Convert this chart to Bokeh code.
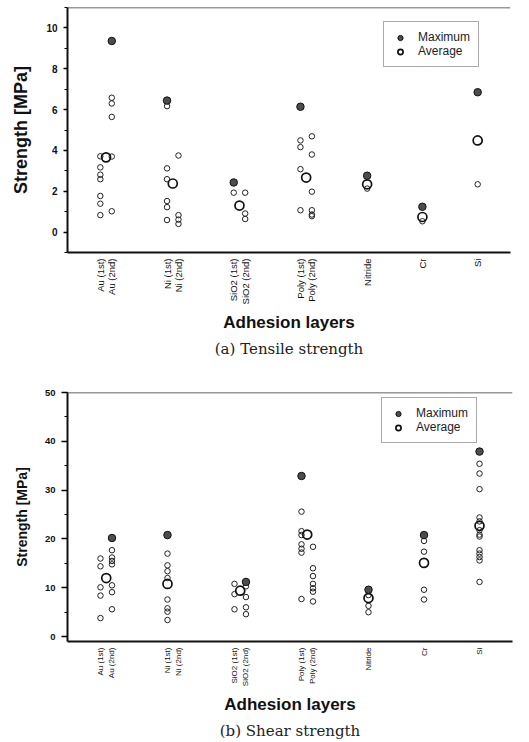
import math
from bokeh.plotting import figure
from bokeh.models import (FactorRange, Range1d, Legend, LegendItem, Span, Title,
                          SingleIntervalTicker)
from bokeh.layouts import column
from bokeh.embed import file_html
from bokeh.resources import INLINE

# ---------------- data ----------------
groups = ["Au", "Ni", "SiO2", "Poly", "Nitride", "Cr", "Si"]
group_columns = [["Au (1st)", "Au (2nd)"], ["Ni (1st)", "Ni (2nd)"],
                 ["SiO2 (1st)", "SiO2 (2nd)"], ["Poly (1st)", "Poly (2nd)"],
                 ["Nitride"], ["Cr"], ["Si"]]

# (a) Tensile strength, individual specimens per column (MPa)
tensile_points = [
    [3.71, 3.17, 2.81, 2.59, 1.77, 1.39, 0.83],        # Au (1st)
    [6.58, 6.30, 5.64, 3.70, 1.02],                    # Au (2nd)
    [6.17, 3.12, 2.59, 1.52, 1.22, 0.59],              # Ni (1st)
    [3.75, 0.83, 0.61, 0.40],                          # Ni (2nd)
    [1.93],                                            # SiO2 (1st)
    [1.93, 0.91, 0.64],                                # SiO2 (2nd)
    [4.49, 4.16, 3.08, 1.07],                          # Poly (1st)
    [4.69, 3.80, 1.98, 1.07, 0.86, 0.78],              # Poly (2nd)
    [2.13],                                            # Nitride
    [0.53],                                            # Cr
    [2.34],                                            # Si
]
tensile_max_col = ["Au (2nd)", "Ni (1st)", "SiO2 (1st)", "Poly (1st)", "Nitride", "Cr", "Si"]
tensile_max = [9.36, 6.44, 2.43, 6.14, 2.76, 1.24, 6.85]
tensile_avg_col = [None, None, None, None, None, None, None]
tensile_avg = [3.66, 2.38, 1.30, 2.67, 2.34, 0.74, 4.49]

# (b) Shear strength
shear_points = [
    [16.0, 14.4, 10.1, 8.4, 3.8],                      # Au (1st)
    [17.7, 16.2, 15.5, 14.8, 10.5, 9.1, 5.6],          # Au (2nd)
    [17.0, 14.6, 13.4, 12.0, 7.6, 5.8, 5.1, 3.4],      # Ni (1st)
    [],                                                # Ni (2nd)
    [10.8, 8.7, 5.6],                                  # SiO2 (1st)
    [10.3, 8.1, 6.0, 4.6],                             # SiO2 (2nd)
    [25.6, 21.6, 20.8, 18.9, 18.0, 17.2, 7.7],         # Poly (1st)
    [18.4, 14.0, 12.4, 10.8, 9.9, 9.2, 7.2],           # Poly (2nd)
    [8.5, 6.3, 5.0],                                   # Nitride
    [19.6, 17.4, 9.6, 7.6],                            # Cr
    [35.4, 33.4, 30.2, 24.4, 23.6, 21.8, 20.9, 20.5,
     17.7, 17.0, 16.3, 15.6, 11.2],                    # Si
]
shear_max_col = ["Au (2nd)", "Ni (1st)", "SiO2 (2nd)", "Poly (1st)", "Nitride", "Cr", "Si"]
shear_max = [20.2, 20.8, 11.2, 32.9, 9.6, 20.8, 37.9]
shear_avg_col = [None, "Ni (1st)", None, None, None, None, None]
shear_avg = [12.0, 10.8, 9.4, 20.9, 7.9, 15.1, 22.7]

factors = [(g, c) for g, cs in zip(groups, group_columns) for c in cs]

SANS = "Liberation Sans"
SERIF = "DejaVu Serif"


def make_chart(points, max_col, max_vals, avg_col, avg_vals, y0, y1, step,
               caption, height, border_left, border_top, ylabel_size,
               xtick_size, ytick_size, tick_out):
    xr = FactorRange(*factors, factor_padding=0.0, group_padding=3.83,
                     range_padding=2.37, range_padding_units="absolute")
    p = figure(x_range=xr, y_range=Range1d(y0, y1), width=border_left + 455,
               height=height, output_backend="svg", toolbar_location=None,
               min_border_left=border_left, min_border_right=10,
               min_border_top=border_top, min_border_bottom=0)
    p.xgrid.visible = False
    p.ygrid.visible = False
    p.outline_line_color = None
    p.background_fill_color = "white"

    xs, ys = [], []
    for f, vals in zip(factors, points):
        for v in vals:
            xs.append(f)
            ys.append(v)
    p.scatter(xs, ys, size=5.5, marker="circle", fill_alpha=0,
              line_color="#222222", line_width=1)

    ax = [g if c is None else (g, c) for g, c in zip(groups, avg_col)]
    r_avg = p.scatter(ax, avg_vals, size=9, marker="circle", fill_alpha=0,
                      line_color="#111111", line_width=1.7)
    mx = [(g, c) for g, c in zip(groups, max_col)]
    r_max = p.scatter(mx, max_vals, size=7.5, marker="circle", fill_color="#4d4d4d",
                      line_color="#111111", line_width=1)

    # top frame line
    p.add_layout(Span(location=y1, dimension="width", line_color="#333333",
                      line_width=1.5))

    xa = p.xaxis[0]
    xa.axis_line_width = 2
    xa.axis_line_color = "#111111"
    xa.major_tick_line_color = None
    xa.major_tick_out = 0
    xa.major_tick_in = 0
    xa.major_label_orientation = math.pi / 2
    xa.major_label_standoff = 6
    xa.major_label_text_font = SANS
    xa.major_label_text_font_size = xtick_size
    xa.major_label_text_color = "#111111"
    xa.group_text_font_size = "0px"
    xa.group_text_color = None
    xa.separator_line_color = None
    xa.axis_label = "Adhesion layers"
    xa.axis_label_text_font = SANS
    xa.axis_label_text_font_style = "bold"
    xa.axis_label_text_font_size = "17px"
    xa.axis_label_text_color = "#111111"
    xa.axis_label_standoff = 6

    ya = p.yaxis[0]
    ya.ticker = SingleIntervalTicker(interval=step, num_minor_ticks=2)
    ya.axis_line_width = 2
    ya.axis_line_color = "#111111"
    ya.major_tick_out = tick_out
    ya.major_tick_in = 0
    ya.minor_tick_out = 3
    ya.minor_tick_in = 0
    ya.major_tick_line_width = 1.5
    ya.major_label_standoff = 6
    ya.major_label_text_font = SANS
    ya.major_label_text_font_style = "bold"
    ya.major_label_text_font_size = ytick_size
    ya.major_label_text_color = "#111111"
    ya.axis_label = "Strength [MPa]"
    ya.axis_label_text_font = SANS
    ya.axis_label_text_font_style = "bold"
    ya.axis_label_text_font_size = ylabel_size
    ya.axis_label_text_color = "#111111"
    ya.axis_label_standoff = 12

    legend = Legend(items=[LegendItem(label="Maximum", renderers=[r_max]),
                           LegendItem(label="Average", renderers=[r_avg])],
                    location="top_right")
    legend.label_text_font = SANS
    legend.label_text_font_size = "12px"
    legend.label_text_color = "#222222"
    legend.border_line_color = "#555555"
    legend.border_line_width = 1
    legend.padding = 8
    legend.spacing = 0
    legend.glyph_width = 16
    legend.glyph_height = 13
    legend.label_height = 13
    legend.label_standoff = 10
    legend.margin = 0
    p.add_layout(legend)

    p.add_layout(Title(text=caption, align="center", text_font=SERIF,
                       text_font_size="15px", text_font_style="normal",
                       text_color="#222222", standoff=4), "below")
    return p, legend


p1, l1 = make_chart(tensile_points, tensile_max_col, tensile_max, tensile_avg_col,
                    tensile_avg, -1, 11, 2, "(a) Tensile strength", 359, 65, 7,
                    "18px", "9.5px", "10px", 4)
l1.location = (316, 185)
p2, l2 = make_chart(shear_points, shear_max_col, shear_max, shear_avg_col,
                    shear_avg, -1, 50, 10, "(b) Shear strength", 382, 67, 33,
                    "14px", "8px", "9.5px", 6)
l2.location = (314, 198)

layout = column(p1, p2, spacing=0)
open("out.html", "w").write(file_html(layout, INLINE))
